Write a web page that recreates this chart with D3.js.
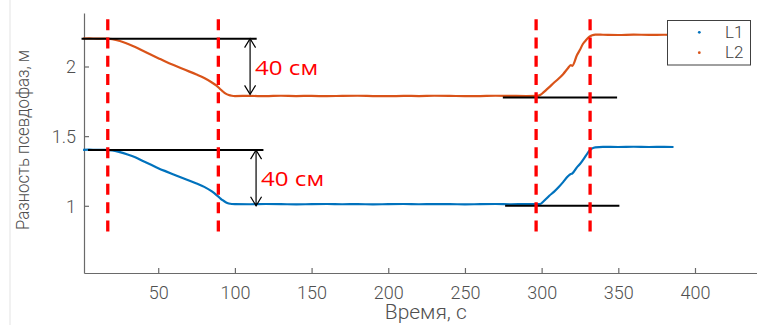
<!DOCTYPE html>
<html>
<head>
<meta charset="utf-8">
<script src="https://cdn.jsdelivr.net/npm/d3@7"></script>
<style>
  html, body { margin: 0; padding: 0; background: #fff; }
  svg { display: block; }
  .axis text { font-family: Roboto, "Liberation Sans", sans-serif; font-weight: 300; font-size: 18px; fill: #505050; }
  .axis path, .axis line { stroke: #6a6a6a; stroke-width: 1.2; }
</style>
</head>
<body>
<svg id="chart" width="757" height="325"></svg>
<script>
// Pseudo-phase difference over time for two signals
const times = [1, 5, 10, 15, 20, 25, 30, 35, 40, 45, 50, 55, 60, 65, 70, 75, 80, 85, 88, 90, 92, 94, 96, 98, 100,
  110, 120, 130, 140, 150, 160, 170, 180, 190, 200, 210, 220, 230, 240, 250, 260, 270, 280, 290, 297,
  299, 301, 303, 305, 308, 311, 314, 317, 319, 320, 323, 325, 327, 329, 331, 333, 335,
  340, 350, 360, 370, 380, 386];

const l1Values = [1.402, 1.403, 1.401, 1.402, 1.398, 1.385, 1.368, 1.348, 1.322, 1.296, 1.270, 1.247, 1.225, 1.203, 1.182, 1.160, 1.136, 1.103, 1.077, 1.058, 1.040, 1.026, 1.017, 1.013, 1.012,
  1.011, 1.013, 1.012, 1.010, 1.012, 1.013, 1.011, 1.012, 1.010, 1.012, 1.013, 1.011, 1.012, 1.012, 1.010, 1.012, 1.013, 1.011, 1.012, 1.012,
  1.013, 1.029, 1.050, 1.072, 1.100, 1.133, 1.170, 1.210, 1.228, 1.232, 1.276, 1.300, 1.330, 1.362, 1.393, 1.412, 1.420,
  1.423, 1.422, 1.424, 1.422, 1.423, 1.422];

const l2Values = [2.201, 2.202, 2.200, 2.201, 2.196, 2.183, 2.163, 2.140, 2.113, 2.086, 2.060, 2.034, 2.010, 1.987, 1.965, 1.942, 1.917, 1.885, 1.862, 1.842, 1.822, 1.805, 1.795, 1.790, 1.788,
  1.789, 1.787, 1.790, 1.788, 1.789, 1.787, 1.789, 1.790, 1.788, 1.787, 1.789, 1.788, 1.790, 1.789, 1.787, 1.788, 1.790, 1.789, 1.788, 1.789,
  1.795, 1.812, 1.832, 1.852, 1.883, 1.912, 1.945, 1.985, 2.010, 2.005, 2.080, 2.120, 2.163, 2.190, 2.212, 2.224, 2.229,
  2.228, 2.226, 2.229, 2.227, 2.228, 2.227];

const seriesNames = ["L1", "L2"];
const seriesColors = ["#0072BD", "#D95319"];

const xTicks = [50, 100, 150, 200, 250, 300, 350, 400];
const yTicks = [1, 1.5, 2];

// Event markers (start / end of height change), reference levels and 40 cm offsets
const eventTimes = [17.1, 89.2, 296.4, 331.6];
const eventSpan = [0.79, 2.34];
const levelLines = [
  { t0: 0, t1: 114.2, v: 2.2 },
  { t0: 4.2, t1: 118.6, v: 1.4 },
  { t0: 274.7, t1: 349.2, v: 1.777 },
  { t0: 276.2, t1: 350.7, v: 1.0 }
];
const offsets = [
  { t: 109.9, from: 2.2, to: 1.8, label: "40 см" },
  { t: 113.8, from: 1.4, to: 1.0, label: "40 см" }
];

const svg = d3.select("#chart");

const x = d3.scaleLinear().domain([1.6, 445]).range([84, 764]);
const y = d3.scaleLinear().domain([0.5176, 2.384]).range([273, 13]);

// faint page edge
svg.append("line").attr("x1", 10).attr("x2", 10).attr("y1", 0).attr("y2", 325)
  .attr("stroke", "#ececec").attr("stroke-width", 1.5);

// axes
const xAxis = svg.append("g").attr("class", "axis").attr("transform", "translate(0,273)")
  .call(d3.axisBottom(x).tickValues(xTicks).tickSizeInner(-5).tickSizeOuter(0).tickFormat(d3.format("d")));
xAxis.selectAll("text").attr("y", 25.5).attr("dy", null);

const yAxis = svg.append("g").attr("class", "axis").attr("transform", "translate(84,0)")
  .call(d3.axisLeft(y).tickValues(yTicks).tickSizeInner(-5).tickSizeOuter(0).tickPadding(8).tickFormat(d3.format("")));
yAxis.selectAll("text").attr("dy", "0.36em");

// axis titles
svg.append("text")
  .attr("transform", "translate(28.5,140) rotate(-90)")
  .attr("text-anchor", "middle")
  .attr("font-family", "Roboto, 'Liberation Sans', sans-serif").attr("font-weight", 300)
  .attr("font-size", 18).attr("fill", "#505050")
  .attr("textLength", 180).attr("lengthAdjust", "spacingAndGlyphs")
  .text("Разность псевдофаз, м");

svg.append("text")
  .attr("x", 425.8).attr("y", 318.7)
  .attr("text-anchor", "middle")
  .attr("font-family", "Roboto, 'Liberation Sans', sans-serif").attr("font-weight", 300)
  .attr("font-size", 20).attr("fill", "#505050")
  .attr("textLength", 82).attr("lengthAdjust", "spacingAndGlyphs")
  .text("Время, с");

// data series
const line = d3.line().x(d => x(d[0])).y(d => y(d[1])).curve(d3.curveMonotoneX);
[l1Values, l2Values].forEach((vals, i) => {
  svg.append("path")
    .datum(times.map((t, k) => [t, vals[k]]))
    .attr("fill", "none")
    .attr("stroke", seriesColors[i])
    .attr("stroke-width", 2.2)
    .attr("d", line);
});

// reference levels
svg.append("g").selectAll("line").data(levelLines).join("line")
  .attr("x1", d => x(d.t0)).attr("x2", d => x(d.t1))
  .attr("y1", d => y(d.v)).attr("y2", d => y(d.v))
  .attr("stroke", "#000").attr("stroke-width", 2);

// event markers
svg.append("g").selectAll("line").data(eventTimes).join("line")
  .attr("x1", d => x(d)).attr("x2", d => x(d))
  .attr("y1", y(eventSpan[1])).attr("y2", y(eventSpan[0]))
  .attr("stroke", "#ff0000").attr("stroke-width", 3.3)
  .attr("stroke-dasharray", "11,7.3");

// double-headed arrows with labels
const og = svg.append("g");
offsets.forEach(o => {
  const ax = x(o.t), ya = y(o.from), yb = y(o.to);
  og.append("line").attr("x1", ax).attr("x2", ax).attr("y1", ya).attr("y2", yb)
    .attr("stroke", "#000").attr("stroke-width", 1.2);
  og.append("path")
    .attr("d", `M${ax - 5.5},${ya + 9}L${ax},${ya}L${ax + 5.5},${ya + 9}M${ax - 5.5},${yb - 9}L${ax},${yb}L${ax + 5.5},${yb - 9}`)
    .attr("fill", "none").attr("stroke", "#000").attr("stroke-width", 1.2);
  og.append("text")
    .attr("x", ax + 5).attr("y", (ya + yb) / 2 + 8.5)
    .attr("font-family", "'Open Sans', 'Noto Sans', sans-serif")
    .attr("font-size", 20).attr("fill", "#ff0000")
    .attr("textLength", 63).attr("lengthAdjust", "spacingAndGlyphs")
    .text(o.label);
});

// legend
const lg = svg.append("g");
lg.append("rect").attr("x", 667.5).attr("y", 20.5).attr("width", 83).attr("height", 44.5)
  .attr("fill", "#fff").attr("stroke", "#404040").attr("stroke-width", 1);
seriesNames.forEach((name, i) => {
  lg.append("circle").attr("cx", 699.3).attr("cy", 32.3 + i * 20.4).attr("r", 1.4).attr("fill", seriesColors[i]);
  lg.append("text").attr("x", 725).attr("y", 38.3 + i * 20)
    .attr("font-family", "Roboto, 'Liberation Sans', sans-serif").attr("font-weight", 300)
    .attr("font-size", 17).attr("fill", "#404040")
    .text(name);
});
</script>
</body>
</html>
